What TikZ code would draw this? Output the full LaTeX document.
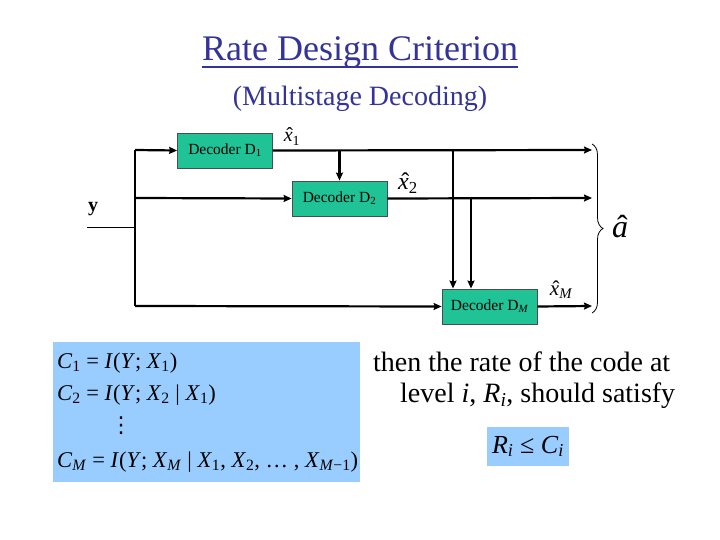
\documentclass[tikz,border=0pt]{standalone}
\usepackage{fontspec}
\setmainfont{Liberation Serif}
\newfontfamily\dejavu{DejaVu Sans}
\usetikzlibrary{arrows.meta,decorations.pathreplacing}
\definecolor{boxgreen}{RGB}{31,195,149}
\definecolor{eqblue}{RGB}{153,204,255}
\definecolor{titleblue}{RGB}{51,51,153}
\newcommand\fs[1]{\fontsize{#1}{#1}\selectfont}
\newcommand\vi[1]{\textit{#1}}
\newcommand\hatv[2]{\ooalign{\textit{#1}\cr\hidewidth\kern0.15em ˆ\hidewidth\cr}#2}
\begin{document}
\begin{tikzpicture}[x=1pt,y=-1pt,
  dec/.style={draw=black!70, line width=0.8pt, fill=boxgreen, minimum width=95pt, minimum height=35pt, inner sep=0pt, font=\fs{15.5}},
  wire/.style={line width=2.2pt},
  arr/.style={wire,-{Stealth[length=8pt,width=7pt,inset=1pt]}},
  lbl/.style={inner sep=0pt},
  eq/.style={anchor=base west, inner sep=0pt, font=\fs{22.5}},
  txt/.style={anchor=base west, inner sep=0pt, font=\fs{28}}]
\useasboundingbox[fill=white] (0,0) rectangle (720,540);

% titles
\node[lbl, anchor=base, text=titleblue, font=\fs{36}] (title) at (360,61) {Rate Design Criterion};
\draw[titleblue, line width=2pt] ([yshift=-6pt]title.base west) -- ([yshift=-6pt]title.base east);
\node[lbl, anchor=base, text=titleblue, font=\fs{28}] (subtitle) at (360,106) {(Multistage Decoding)};

% decoders
\node[dec] (d1) at (225,150.5) {Decoder D\textsubscript{1}};
\node[dec] (d2) at (339.5,198.5) {Decoder D\textsubscript{2}};
\node[dec] (dM) at (489.5,306.5) {Decoder D\textsubscript{\itshape M}};

% input
\coordinate (yin) at (87,228);
\coordinate (yj) at (135,228);
\coordinate (vt) at (135,150);
\coordinate (v2) at (135,198);
\coordinate (vb) at (135,306);
\node[lbl, font=\fs{20}\bfseries] (ylab) at (93,209) {y};
\draw[line width=1pt] (yin) -- (yj);
\draw[wire] (vt) -- (vb);
\draw[arr] (vt) -- (d1.west);
\draw[arr] (v2) -- (d2.west);
\draw[arr] (vb) -- (dM.west);

% outputs
\coordinate (o1) at (592,150);
\coordinate (o2) at (592,198);
\coordinate (oM) at (592,306);
\draw[arr] (d1.east) -- (o1);
\draw[arr] (d2.east) -- (o2);
\draw[arr] (dM.east) -- (oM);

% taps
\coordinate (t1) at (339.5,150);
\coordinate (t2) at (453,150);
\coordinate (t3) at (471,198);
\draw[arr] (t1) -- (d2.north);
\draw[arr] (t2) -- (t2 |- dM.north);
\draw[arr] (t3) -- (t3 |- dM.north);

% labels
\node[lbl, anchor=base, font=\fs{20}] (x1) at (292,142) {\hatv{x}{\textsubscript{1}}};
\node[lbl, anchor=base, font=\fs{24}] (x2) at (408,190) {\hatv{x}{\textsubscript{2}}};
\node[lbl, anchor=base, font=\fs{21}] (xM) at (561,295) {\hatv{x}{\textsubscript{\itshape M}}};

% brace
\coordinate (b1) at (592,144);
\coordinate (b2) at (592,313);
\draw[decorate, decoration={brace, amplitude=11pt}, line width=0.8pt] (b1) -- (b2);
\node[lbl, anchor=base, font=\fs{32}] (ahat) at (620,237) {\hatv{a}{}};

% capacity box
\node[fill=eqblue, minimum width=307pt, minimum height=140pt, inner sep=0pt, anchor=north west] (capbox) at (53,342) {};
\node[eq] (e1) at (57,368) {\vi{C}\textsubscript{1} = \vi{I}(\vi{Y}; \vi{X}\textsubscript{1})};
\node[eq] (e2) at (57,400) {\vi{C}\textsubscript{2} = \vi{I}(\vi{Y}; \vi{X}\textsubscript{2} | \vi{X}\textsubscript{1})};
\node[lbl, font=\fs{22}\dejavu] (e3) at (121,426) {⋮};
\node[eq] (e4) at (57,467) {\vi{C}\textsubscript{\vi{M}} = \vi{I}(\vi{Y}; \vi{X}\textsubscript{\vi{M}} | \vi{X}\textsubscript{1}, \vi{X}\textsubscript{2}, …\ , \vi{X}\textsubscript{\vi{M}−1})};

% right text
\node[txt] (t1a) at (373,371) {then the rate of the code at};
\node[txt] (t1b) at (400,402) {level \vi{i}, \vi{R}\textsubscript{\vi{i}}, should satisfy};
\node[fill=eqblue, minimum width=82pt, minimum height=39pt, inner sep=0pt, font=\fs{26}] (rc) at (528,446.5) {\vi{R}\textsubscript{\vi{i}} ≤ \vi{C}\textsubscript{\vi{i}}};
\end{tikzpicture}
\end{document}
